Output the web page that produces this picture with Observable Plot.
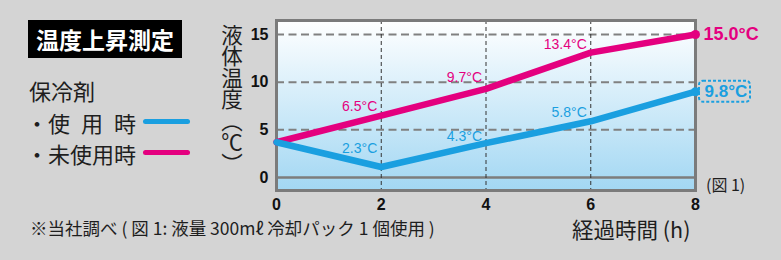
<!DOCTYPE html>
<html>
<head>
<meta charset="utf-8">
<script src="https://cdn.jsdelivr.net/npm/d3@7"></script>
<script src="https://cdn.jsdelivr.net/npm/@observablehq/plot@0.6"></script>
<style>
  html, body { margin: 0; padding: 0; background: #d4d4d4; }
  #wrap { position: relative; width: 781px; height: 260px; overflow: hidden; background: #d4d4d4; }
  #wrap svg { position: absolute; left: 0; top: 0; }
  .jp { position: absolute; font-family: "Noto Sans CJK JP", "Noto Sans", sans-serif; color: #1e1e1e; line-height: 1; white-space: nowrap; }
  #title { left: 28px; top: 20px; width: 154px; height: 38px; background: #000; color: #fff; font-weight: bold; font-size: 23px; line-height: 38px; text-align: center; }
  #ytitle { left: 221px; top: 24px; font-size: 21.5px; writing-mode: vertical-rl; }
  .legline { position: absolute; left: 143px; width: 47px; height: 5px; border-radius: 3px; }
</style>
</head>
<body>
<div id="wrap">
  <div class="jp" id="title">温度上昇測定</div>
  <div class="jp" style="left:29px; top:79px; font-size:22px;">保冷剤</div>
  <div class="jp" style="left:26px; top:111px; font-size:22px;">・使&#8194;用&#8194;時</div>
  <div class="jp" style="left:26px; top:142px; font-size:22px;">・未使用時</div>
  <div class="legline" id="legBlue" style="top:119px;"></div>
  <div class="legline" id="legPink" style="top:150px;"></div>
  <div class="jp" id="ytitle">液体温度（℃）</div>
  <div class="jp" style="left:706px; top:176px; font-size:16px;">(図 1)</div>
  <div class="jp" style="left:572px; top:218px; font-size:21.5px;">経過時間 (h)</div>
  <div class="jp" style="left:30px; top:219px; font-size:17.5px;">※当社調べ ( 図 1: 液量 300mℓ 冷却パック 1 個使用 )</div>
</div>
<script>
// ---- data ----
const hours = [0, 2, 4, 6, 8];
const withPack = [3.7, 1.1, 3.6, 5.9, 9.0];        // 保冷剤 使用時
const withoutPack = [3.7, 6.5, 9.3, 13.1, 15.0];   // 保冷剤 未使用時
const labelHours = [2, 4, 6];
const withPackLabels = ["2.3°C", "4.3°C", "5.8°C"];
const withoutPackLabels = ["6.5°C", "9.7°C", "13.4°C"];
const withPackEnd = "9.8°C";
const withoutPackEnd = "15.0°C";
const yTicks = [0, 5, 10, 15];
const xTicks = [0, 2, 4, 6, 8];

const BLUE = "#1a9fe0";
const PINK = "#e4007f";

document.getElementById("legBlue").style.background = BLUE;
document.getElementById("legPink").style.background = PINK;

const blueRows = hours.map((h, i) => ({h, v: withPack[i]}));
const pinkRows = hours.map((h, i) => ({h, v: withoutPack[i]}));

const blueDy = [-18.5, -7, -9];
const pinkDy = [-9, -11, -8.5];

const labelMarks = [];
labelHours.forEach((h, i) => {
  const idx = hours.indexOf(h);
  labelMarks.push(Plot.text([withoutPackLabels[i]], {
    x: () => h, y: () => withoutPack[idx], text: d => d,
    textAnchor: "end", dx: -4, dy: pinkDy[i], fill: PINK, fontSize: 14, fontWeight: "normal"
  }));
  labelMarks.push(Plot.text([withPackLabels[i]], {
    x: () => h, y: () => withPack[idx], text: d => d,
    textAnchor: "end", dx: -4, dy: blueDy[i], fill: BLUE, fontSize: 14, fontWeight: "normal"
  }));
});

const last = hours.length - 1;

const chart = Plot.plot({
  width: 781,
  height: 260,
  marginLeft: 276,
  marginRight: 86,
  marginTop: 20,
  marginBottom: 70,
  x: {domain: [0, 8]},
  y: {domain: [-1.364, 16.47]},
  style: {background: "transparent", fontFamily: "'Liberation Sans', Arial, sans-serif", fontSize: "16px", fontWeight: "bold", color: "#111", overflow: "visible"},
  marks: [
    Plot.frame({fill: "url(#bgGrad)", stroke: "none"}),
    Plot.ruleY(yTicks.filter(t => t !== 0), {stroke: "#808080", strokeWidth: 2, strokeDasharray: "8,4.5"}),
    Plot.ruleY([0], {stroke: "#7d7d7d", strokeWidth: 2.5}),
    Plot.ruleX(xTicks.slice(1, -1), {stroke: "#333", strokeWidth: 1, strokeDasharray: "4,3"}),
    Plot.frame({stroke: "#7b7b7b", strokeWidth: 3}),
    Plot.line(pinkRows, {x: "h", y: "v", stroke: PINK, strokeWidth: 6.5, strokeLinecap: "round", strokeLinejoin: "round"}),
    Plot.line(blueRows, {x: "h", y: "v", stroke: BLUE, strokeWidth: 6.5, strokeLinecap: "round", strokeLinejoin: "round"}),
    Plot.dot([pinkRows[last]], {x: "h", y: "v", r: 4.5, fill: PINK}),
    Plot.dot([blueRows[last]], {x: "h", y: "v", r: 4.5, fill: BLUE}),
    ...labelMarks,
    Plot.text([withoutPackEnd], {x: () => hours[last], y: () => withoutPack[last], text: d => d, textAnchor: "start", dx: 8, fill: PINK, fontSize: 18, fontWeight: "bold"}),
    Plot.text([withPackEnd], {x: () => hours[last], y: () => withPack[last], text: d => d, textAnchor: "start", dx: 9, fill: BLUE, fontSize: 17, fontWeight: "bold"}),
    Plot.axisY({ticks: yTicks, tickSize: 0, tickPadding: 8, fontSize: 16, fontWeight: "bold", label: null}),
    Plot.axisX({ticks: xTicks, tickSize: 0, tickPadding: 8, fontSize: 16, fontWeight: "bold", label: null})
  ]
});

const svg = d3.select(chart);
const defs = svg.insert("defs", ":first-child");
const grad = defs.append("linearGradient").attr("id", "bgGrad")
  .attr("x1", 0).attr("y1", 0).attr("x2", 0).attr("y2", 1);
grad.append("stop").attr("offset", "0%").attr("stop-color", "#ffffff");
grad.append("stop").attr("offset", "100%").attr("stop-color", "#a2d7f3");

// dashed rounded box around the end label of 使用時
const xs = chart.scale("x"), ys = chart.scale("y");
const bx = xs.apply(hours[last]) + 4;
const by = ys.apply(withPack[last]);
svg.append("rect")
  .attr("x", bx).attr("y", by - 10.5)
  .attr("width", 51).attr("height", 21)
  .attr("rx", 4).attr("ry", 4)
  .attr("fill", "none").attr("stroke", BLUE)
  .attr("stroke-width", 2).attr("stroke-dasharray", "3,2");

document.getElementById("wrap").prepend(chart);
</script>
</body>
</html>
